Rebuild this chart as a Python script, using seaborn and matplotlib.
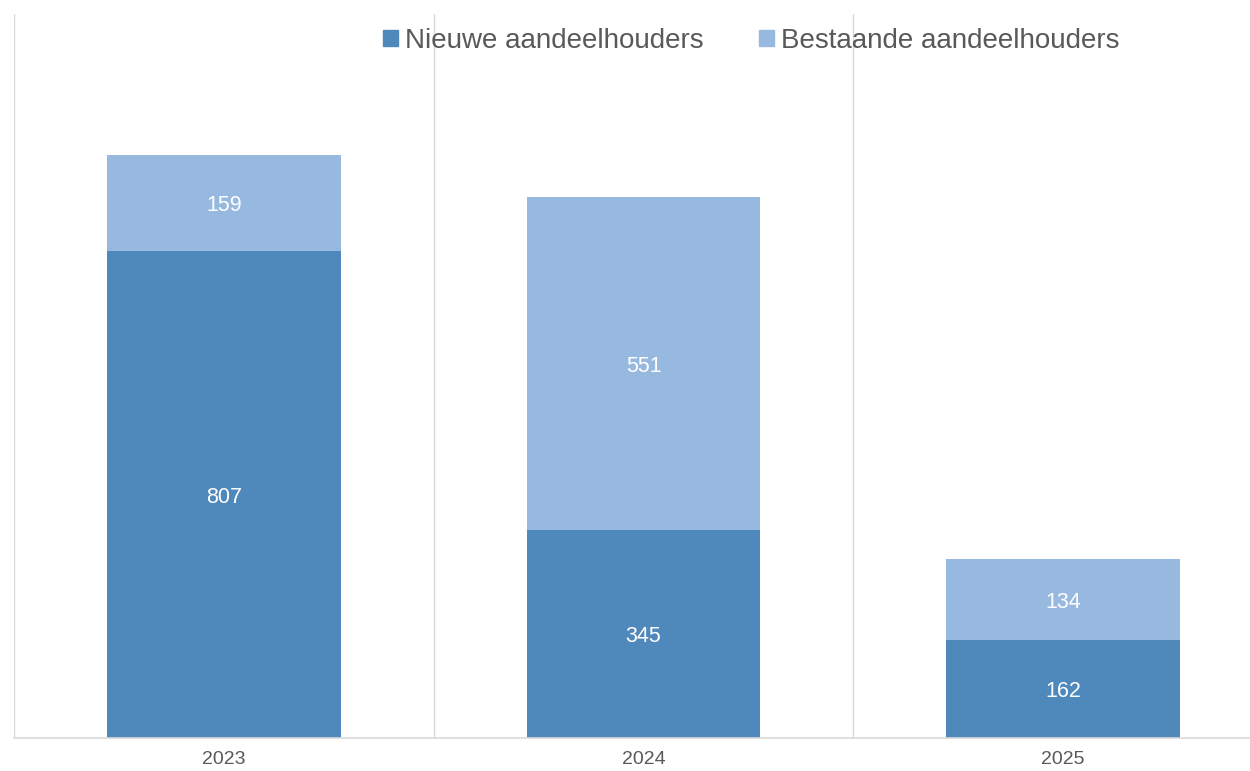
import seaborn as sns
import matplotlib.pyplot as plt
import pandas as pd
from matplotlib.patches import Patch

jaren = ["2023", "2024", "2025"]
nieuw = [807, 345, 162]
bestaand = [159, 551, 134]

kleur_nieuw = "#4F89BB"
kleur_bestaand = "#97B8DF"
grijs = "#595959"


def main():
    sns.set_style("white")
    plt.rcParams['font.family'] = ['Liberation Sans', 'DejaVu Sans']

    data = pd.DataFrame({
        'jaar': jaren,
        'nieuw': nieuw,
        'bestaand': bestaand,
    })
    data['totaal'] = data['nieuw'] + data['bestaand']

    fig = plt.figure(figsize=(12.5, 7.71), dpi=100)
    ax = fig.add_axes([14 / 1250, 33 / 771, 1259 / 1250, 724 / 771])

    # totaal in licht blauw, nieuwe erover in donker blauw
    sns.barplot(data=data, x='jaar', y='totaal', color=kleur_bestaand,
                saturation=1, width=0.557, linewidth=0, ax=ax)
    sns.barplot(data=data, x='jaar', y='nieuw', color=kleur_nieuw,
                saturation=1, width=0.557, linewidth=0, ax=ax)

    for i, row in data.iterrows():
        ax.text(i, row['nieuw'] / 2, str(row['nieuw']), ha='center',
                va='center_baseline', color='white', fontsize=15.5)
        ax.text(i, row['nieuw'] + row['bestaand'] / 2, str(row['bestaand']),
                ha='center', va='center_baseline', color='white', fontsize=15.5)

    ax.set_xlim(-0.5, 2.5)
    ax.set_ylim(0, 1200)
    ax.set_yticks([])
    ax.set_xlabel('')
    ax.set_ylabel('')

    ax.set_xticks([-0.5, 0.5, 1.5, 2.5], minor=True)
    ax.grid(True, which='minor', axis='x', color='#D9D9D9', linewidth=1.0)
    ax.set_axisbelow(True)
    ax.tick_params(axis='x', which='both', length=0)
    ax.tick_params(axis='x', which='major', labelsize=14, labelcolor=grijs, pad=9)

    for side in ['top', 'right', 'left']:
        ax.spines[side].set_visible(False)
    ax.spines['bottom'].set_color('#D9D9D9')
    ax.spines['bottom'].set_linewidth(1.2)

    handles = [Patch(color=kleur_nieuw, label='Nieuwe aandeelhouders'),
               Patch(color=kleur_bestaand, label='Bestaande aandeelhouders')]
    leg = fig.legend(handles=handles, loc='center', bbox_to_anchor=(0.601, 0.947),
                     ncol=2, frameon=False, fontsize=20, handlelength=0.55,
                     handleheight=0.55, handletextpad=0.25, columnspacing=2.0)
    for t in leg.get_texts():
        t.set_color(grijs)

    plt.savefig('out.png', dpi=100)


if __name__ == '__main__':
    main()
